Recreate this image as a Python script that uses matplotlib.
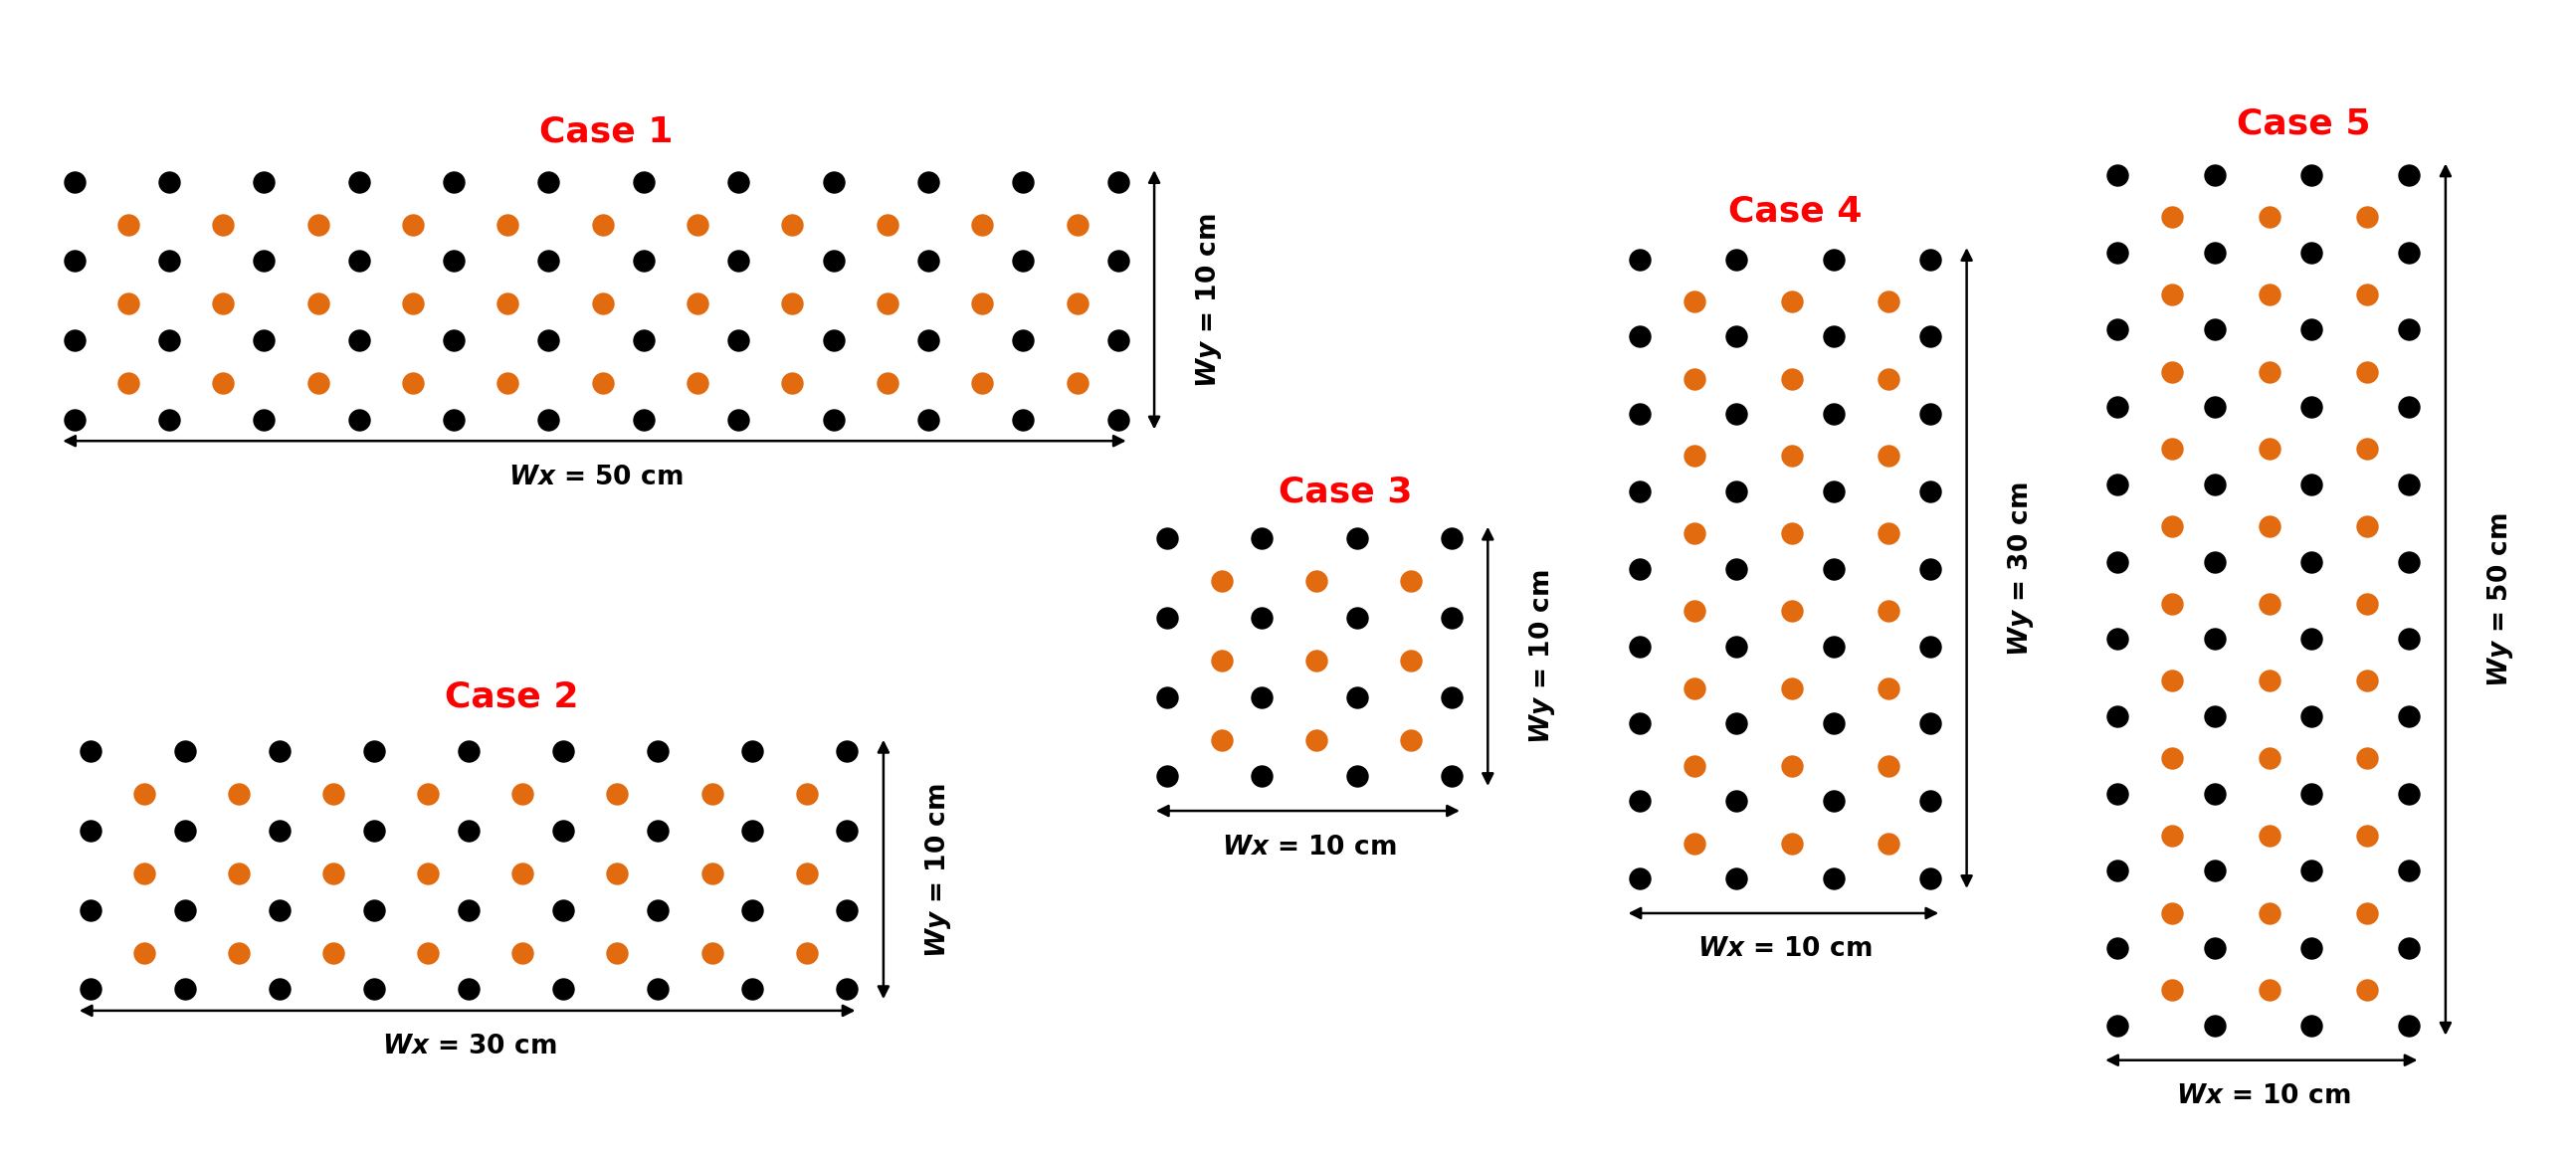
import matplotlib.pyplot as plt
import numpy as np

# layout works in the 1560 x 697 units of the reference image
W, H = 1560, 697

names = ['Case 1', 'Case 2', 'Case 3', 'Case 4', 'Case 5']
wx = [50, 30, 10, 10, 10]
wy = [10, 10, 10, 30, 50]
black_cols = [12, 9, 4, 4, 4]
black_rows = [4, 4, 4, 9, 12]
# grid origin (first black dot) and last black dot
x0 = [45, 55, 707, 993, 1282]
x1 = [677, 513, 879, 1169, 1459]
y0 = [110, 455, 326, 157, 106]
y1 = [254, 599, 470, 532, 621]
title_pos = [(367, 80), (310, 422), (815, 298), (1087, 128), (1395, 75)]

ORANGE = '#E26B10'

fig = plt.figure(figsize=(25.89, 11.57), dpi=100)
ax = fig.add_axes([0, 0, 1, 1])
ax.set_xlim(0, W)
ax.set_ylim(H, 0)
ax.axis('off')

arrow = dict(arrowstyle='<|-|>', color='black', lw=1.8, mutation_scale=18,
             shrinkA=0, shrinkB=0)

for i in range(5):
    xs = np.linspace(x0[i], x1[i], black_cols[i])
    ys = np.linspace(y0[i], y1[i], black_rows[i])
    bx, by = np.meshgrid(xs, ys)
    ax.scatter(bx.ravel(), by.ravel(), s=260, color='black', lw=0)
    ox = (xs[:-1] + xs[1:]) / 2 + 4
    oy = (ys[:-1] + ys[1:]) / 2 + 2
    gx, gy = np.meshgrid(ox, oy)
    ax.scatter(gx.ravel(), gy.ravel(), s=260, color=ORANGE, lw=0)

    ax.text(*title_pos[i], names[i], color='red', fontsize=26, fontweight='bold',
            ha='center', va='center')

    # horizontal dimension
    hy = y1[i] + 13 + (8 if i > 1 else 0)
    ax.annotate('', xy=(x0[i] - 7, hy), xytext=(x1[i] + 5, hy), arrowprops=arrow)
    cx = (x0[i] + x1[i]) / 2
    ax.text(cx, hy + 22, r'$\mathbfit{Wx}$' + ' = %d cm' % wx[i], fontsize=19,
            fontweight='bold', ha='center', va='center')

    # vertical dimension
    vx = x1[i] + 22
    ax.annotate('', xy=(vx, y0[i] - 7), xytext=(vx, y1[i] + 6), arrowprops=arrow)
    ax.text(vx + 33, (y0[i] + y1[i]) / 2, r'$\mathbfit{Wy}$' + ' = %d cm' % wy[i],
            fontsize=19, fontweight='bold', rotation=90, ha='center', va='center')

fig.savefig('out.png', dpi=100)
